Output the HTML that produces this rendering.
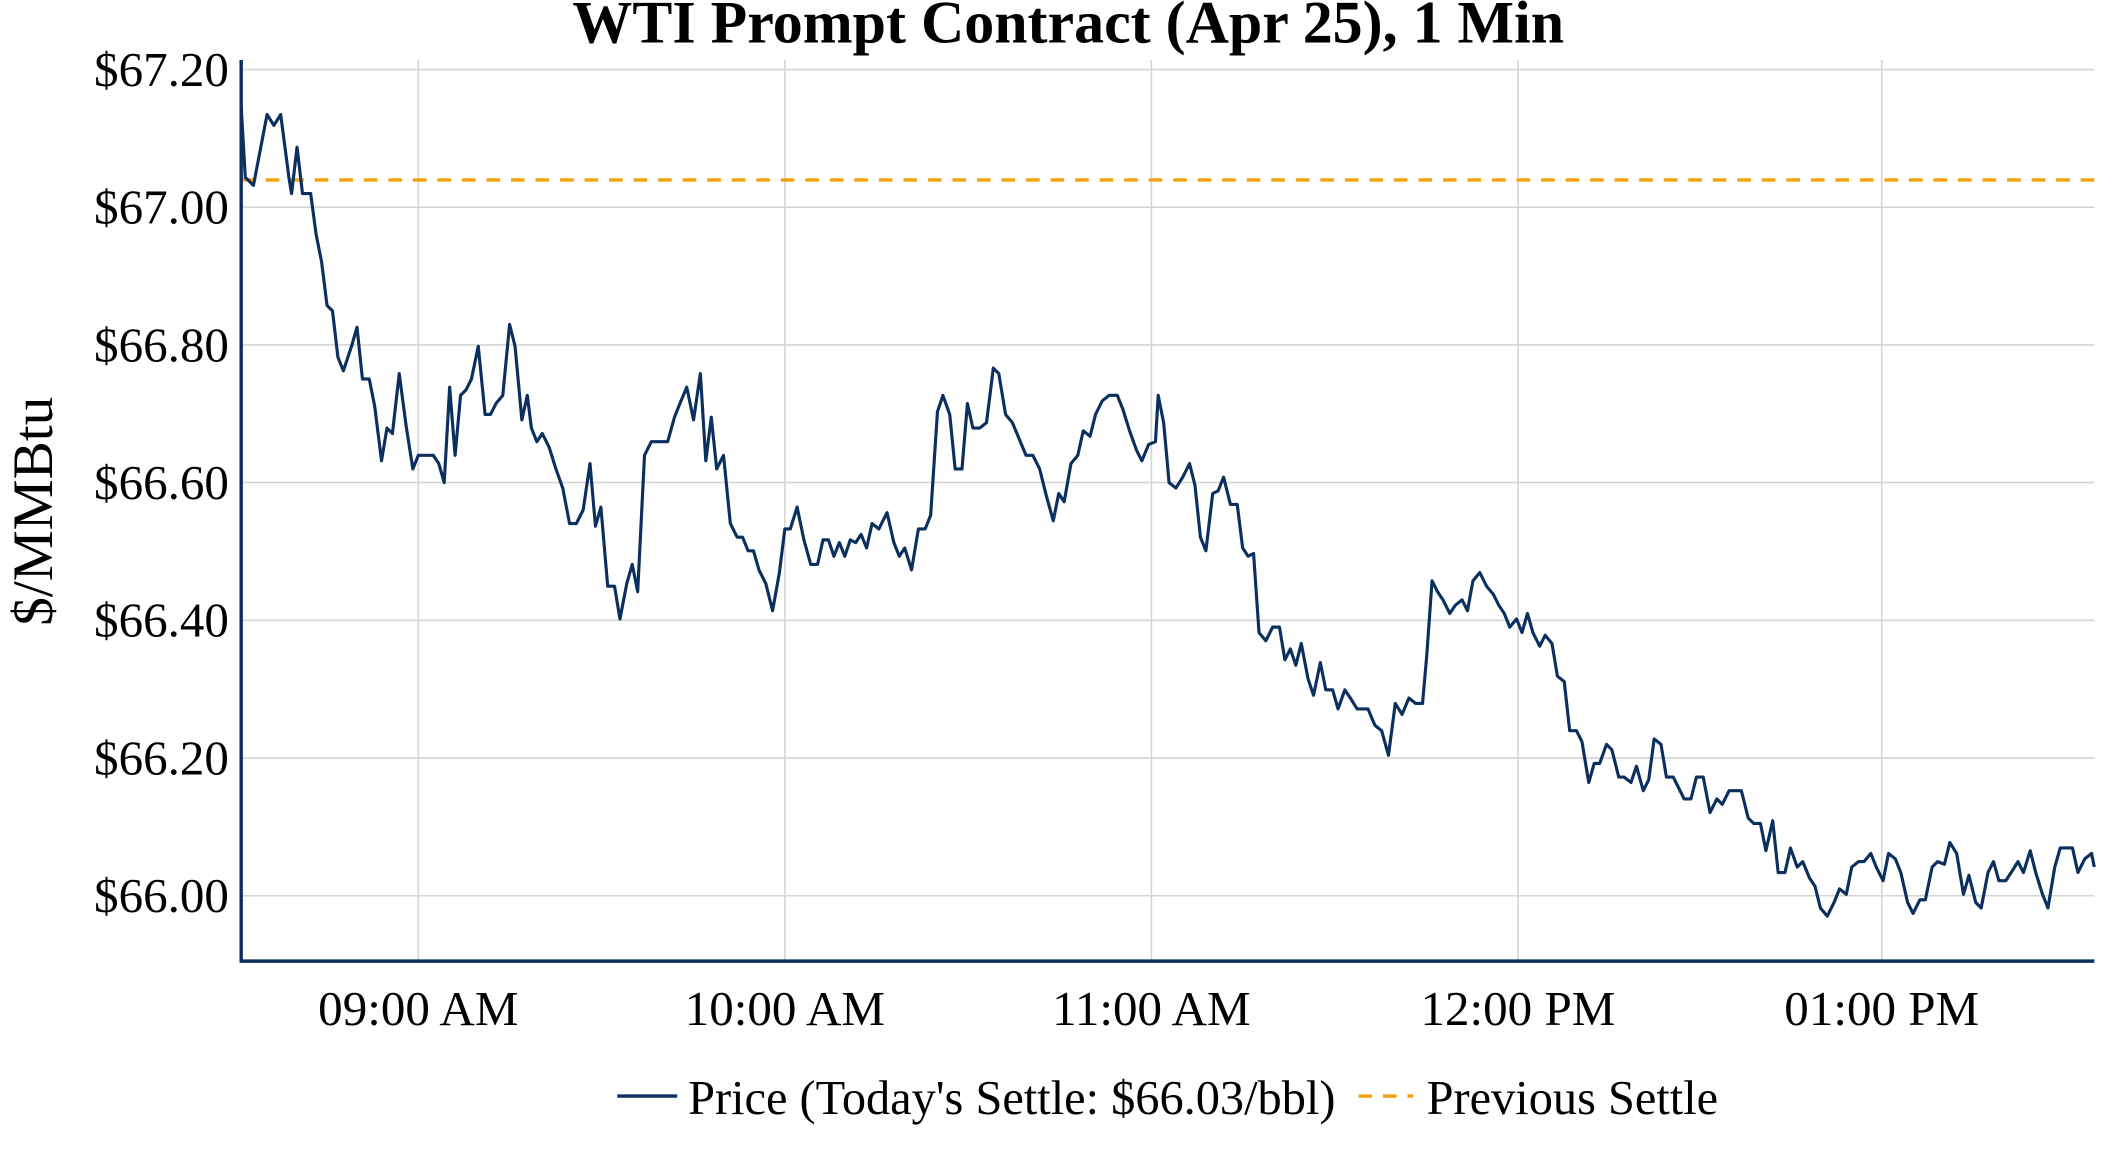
<!DOCTYPE html>
<html><head><meta charset="utf-8"><style>
html,body{margin:0;padding:0;background:#fff;}
svg{display:block;}
text{font-family:"Liberation Serif",serif;fill:#000;}
</style></head><body>
<svg width="2112" height="1152" viewBox="0 0 1550 845" preserveAspectRatio="none">
<rect width="1550" height="845" fill="#fff"/>
<g stroke="#d6d6d6" stroke-width="1.2">
<line x1="177" y1="51" x2="1537" y2="51"/>
<line x1="177" y1="152" x2="1537" y2="152"/>
<line x1="177" y1="253" x2="1537" y2="253"/>
<line x1="177" y1="354" x2="1537" y2="354"/>
<line x1="177" y1="455" x2="1537" y2="455"/>
<line x1="177" y1="556" x2="1537" y2="556"/>
<line x1="177" y1="657" x2="1537" y2="657"/>
<line x1="307" y1="44" x2="307" y2="705"/>
<line x1="576" y1="44" x2="576" y2="705"/>
<line x1="845" y1="44" x2="845" y2="705"/>
<line x1="1114" y1="44" x2="1114" y2="705"/>
<line x1="1381" y1="44" x2="1381" y2="705"/>
</g>
<line x1="177" y1="132" x2="1537" y2="132" stroke="#f5a00f" stroke-width="2.5" stroke-dasharray="10,8"/>
<polyline fill="none" stroke="#0b2f5e" stroke-width="2.3" stroke-linejoin="round" points="177,78 180,130 186,136 196,84 201,92 206,84 212,130 214,142 218,108 222,142 228,142 232,172 236,192 240,224 244,228 248,262 252,272 258,254 262,240 266,278 271,278 275,298 280,338 284,314 288,318 293,274 298,312 303,344 307,334 313,334 318,334 322,340 326,354 330,284 334,334 338,290 342,286 346,278 351,254 356,304 360,304 364,296 369,290 374,238 378,254 383,308 387,290 390,314 394,324 398,318 403,328 408,344 413,358 418,384 423,384 428,374 433,340 437,386 441,372 446,430 451,430 455,454 460,428 464,414 468,434 473,334 478,324 484,324 490,324 495,306 499,296 504,284 509,308 514,274 518,338 522,306 526,344 531,334 536,384 541,394 545,394 549,404 553,404 557,418 562,428 567,448 572,420 576,388 580,388 585,372 590,396 595,414 600,414 604,396 608,396 612,408 616,398 620,408 624,396 628,398 632,392 636,402 640,384 645,388 651,376 656,398 660,408 664,402 669,418 674,388 679,388 683,378 688,302 692,290 697,304 701,344 706,344 710,296 714,314 719,314 724,310 729,270 733,274 738,304 743,310 748,322 753,334 758,334 763,344 768,364 773,382 777,362 781,368 786,340 791,334 795,316 800,320 804,304 809,294 814,290 820,290 824,300 829,316 834,330 838,338 843,326 848,324 850,290 854,310 858,354 863,358 868,350 873,340 877,356 881,394 885,404 890,362 894,360 898,350 903,370 908,370 912,402 916,408 920,406 924,464 929,470 934,460 939,460 943,484 947,476 951,488 955,472 960,498 964,510 969,486 973,506 978,506 982,520 987,506 991,512 996,520 1000,520 1004,520 1009,532 1014,536 1019,554 1024,516 1029,524 1034,512 1039,516 1044,516 1047,482 1051,426 1055,434 1059,440 1064,450 1068,444 1073,440 1077,448 1081,426 1086,420 1091,430 1096,436 1100,444 1104,450 1108,460 1113,454 1117,464 1121,450 1125,464 1130,474 1134,466 1139,472 1143,496 1148,500 1152,536 1157,536 1161,544 1166,574 1170,560 1174,560 1179,546 1183,550 1188,570 1192,570 1197,574 1201,562 1206,580 1210,572 1214,542 1219,546 1223,570 1228,570 1232,578 1236,586 1241,586 1245,570 1250,570 1255,596 1260,586 1264,590 1269,580 1274,580 1278,580 1283,600 1287,604 1292,604 1296,624 1301,602 1305,640 1310,640 1314,622 1319,636 1323,632 1328,644 1332,650 1336,666 1341,672 1346,662 1350,652 1355,656 1359,636 1364,632 1368,632 1373,626 1377,636 1382,646 1386,626 1391,630 1395,640 1400,662 1404,670 1409,660 1413,660 1418,636 1422,632 1427,634 1431,618 1436,626 1441,656 1445,642 1450,662 1454,666 1459,640 1463,632 1467,646 1472,646 1476,640 1481,632 1485,640 1490,624 1494,640 1499,656 1503,666 1508,636 1512,622 1517,622 1521,622 1525,640 1530,630 1535,626 1537,636"/>
<line x1="177" y1="44" x2="177" y2="706" stroke="#0b2f5e" stroke-width="2.5"/>
<line x1="176" y1="705" x2="1537" y2="705" stroke="#0b2f5e" stroke-width="2.5"/>
<text x="784" y="31" text-anchor="middle" font-size="44" font-weight="bold">WTI Prompt Contract (Apr 25), 1 Min</text>
<g font-size="36" text-anchor="end">
<text x="168" y="63">$67.20</text>
<text x="168" y="164">$67.00</text>
<text x="168" y="265">$66.80</text>
<text x="168" y="366">$66.60</text>
<text x="168" y="467">$66.40</text>
<text x="168" y="568">$66.20</text>
<text x="168" y="669">$66.00</text>
</g>
<g font-size="36" text-anchor="middle">
<text x="307" y="752">09:00 AM</text>
<text x="576" y="752">10:00 AM</text>
<text x="845" y="752">11:00 AM</text>
<text x="1114" y="752">12:00 PM</text>
<text x="1381" y="752">01:00 PM</text>
</g>
<text transform="translate(38,375) rotate(-90)" text-anchor="middle" font-size="42">$/MMBtu</text>
<line x1="453" y1="804" x2="497" y2="804" stroke="#0b2f5e" stroke-width="2.5"/>
<text x="505" y="817" font-size="35.5">Price (Today's Settle: $66.03/bbl)</text>
<line x1="997" y1="804" x2="1037" y2="804" stroke="#f5a00f" stroke-width="2.5" stroke-dasharray="10,8"/>
<text x="1047" y="817" font-size="35.5">Previous Settle</text>
</svg>
</body></html>
